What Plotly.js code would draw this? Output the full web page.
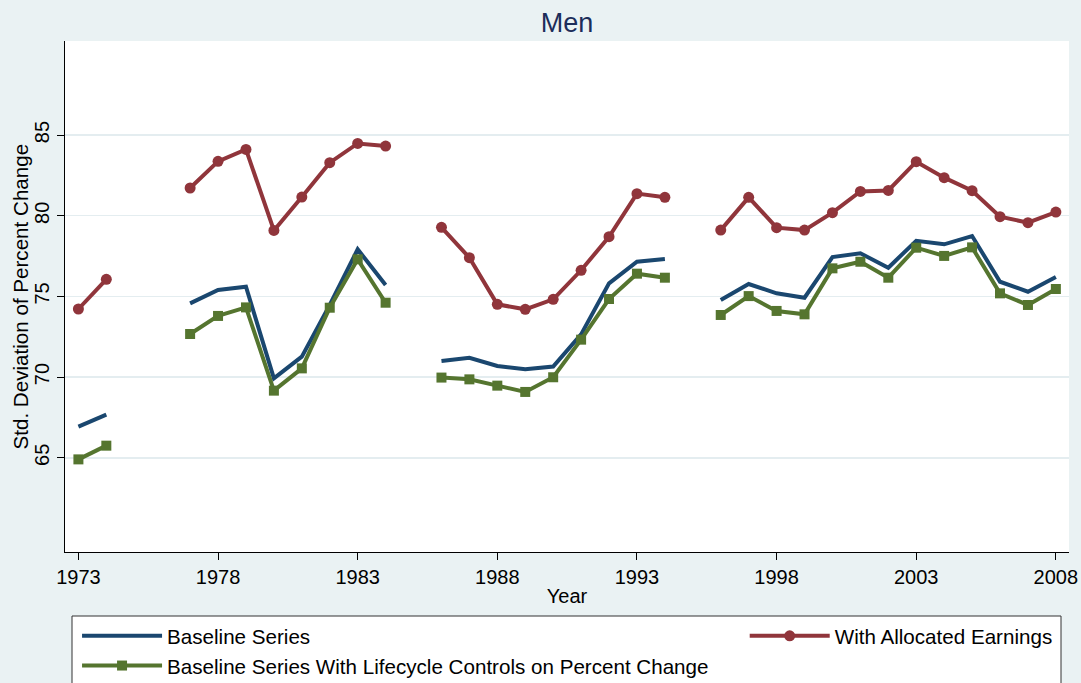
<!DOCTYPE html>
<html>
<head>
<meta charset="utf-8">
<script src="https://cdn.plot.ly/plotly-3.0.1.min.js"></script>
<style>html,body{margin:0;padding:0;background:#EAF2F3;}#chart{width:1081px;height:683px;}</style>
</head>
<body>
<div id="chart"></div>
<script>
var years = [1973,1974,1975,1976,1977,1978,1979,1980,1981,1982,1983,1984,1985,1986,1987,1988,1989,1990,1991,1992,1993,1994,1995,1996,1997,1998,1999,2000,2001,2002,2003,2004,2005,2006,2007,2008];
var baseline = [66.93,67.67,null,null,74.57,75.40,75.60,69.92,71.27,74.47,77.92,75.71,null,71.00,71.20,70.69,70.48,70.65,72.65,75.81,77.15,77.32,null,74.78,75.77,75.19,74.92,77.44,77.67,76.78,78.45,78.23,78.74,75.91,75.29,76.20];
var allocated = [74.22,76.06,null,null,81.72,83.37,84.11,79.09,81.16,83.29,84.48,84.32,null,79.28,77.40,74.51,74.20,74.82,76.62,78.70,81.37,81.14,null,79.11,81.14,79.26,79.11,80.19,81.51,81.57,83.35,82.36,81.55,79.94,79.57,80.23];
var lifecycle = [64.90,65.75,null,null,72.67,73.79,74.32,69.16,70.54,74.30,77.30,74.61,null,69.97,69.86,69.47,69.08,69.99,72.32,74.84,76.41,76.16,null,73.85,75.02,74.10,73.89,76.74,77.15,76.16,78.02,77.51,78.04,75.19,74.47,75.46];
var xTicks = [1973,1978,1983,1988,1993,1998,2003,2008];
var yTicks = [65,70,75,80,85];
var seriesNames = ['Baseline Series','With Allocated Earnings','Baseline Series With Lifecycle Controls on Percent Change'];
var yTitle = 'Std. Deviation of Percent Change';

var FONT = 'Liberation Sans, Arial, Helvetica, sans-serif';
var NAVY = '#1A476F', MAROON = '#90353B', GREEN = '#55752F';

var traces = [
  {x: years, y: baseline, name: seriesNames[0], type: 'scatter', mode: 'lines', connectgaps: false,
   line: {color: NAVY, width: 4}, legend: 'legend'},
  {x: years, y: allocated, name: seriesNames[1], type: 'scatter', mode: 'lines+markers', connectgaps: false,
   line: {color: MAROON, width: 4}, marker: {symbol: 'circle', size: 11, color: MAROON}, legend: 'legend2'},
  {x: years, y: lifecycle, name: seriesNames[2], type: 'scatter', mode: 'lines+markers', connectgaps: false,
   line: {color: GREEN, width: 4}, marker: {symbol: 'square', size: 10, color: GREEN}, legend: 'legend'}
];

var layout = {
  width: 1081, height: 683,
  paper_bgcolor: '#EAF2F3', plot_bgcolor: '#FFFFFF',
  font: {family: FONT, size: 20, color: '#000'},
  margin: {l: 65, r: 12, t: 41, b: 131, autoexpand: false},
  title: {text: 'Men', font: {family: FONT, size: 27, color: '#1c2d5a'}, x: 0.5, xref: 'paper', y: 0.967, yref: 'container', yanchor: 'middle'},
  xaxis: {range: [1972.52, 2008.47], tickmode: 'array', tickvals: xTicks, ticktext: xTicks.map(String),
    ticks: 'outside', ticklen: 7, tickcolor: '#000', tickwidth: 1, showline: true, linecolor: '#000', linewidth: 1.3,
    showgrid: false, zeroline: false, tickfont: {size: 20, family: FONT},
    title: {text: 'Year', font: {size: 20, family: FONT}, standoff: 1}},
  yaxis: {range: [59.16, 90.83], tickmode: 'array', tickvals: yTicks, ticktext: yTicks.map(String), tickangle: -90,
    ticks: 'outside', ticklen: 7, tickcolor: '#000', tickwidth: 1, showline: true, linecolor: '#000', linewidth: 1.3,
    showgrid: true, gridcolor: '#E4EDF0', gridwidth: 1.5, zeroline: false, tickfont: {size: 20, family: FONT}},
  annotations: [
    {text: yTitle, xref: 'paper', yref: 'paper', x: (20-65)/1004, y: 0.5, xanchor: 'center', yanchor: 'middle',
     textangle: -90, showarrow: false, font: {size: 20.6, family: FONT, color: '#000'}}
  ],
  showlegend: true,
  legend: {x: 0.012, xanchor: 'left', y: -0.125, yanchor: 'top', orientation: 'v', bgcolor: 'rgba(0,0,0,0)',
    borderwidth: 0, itemwidth: 80, tracegroupgap: 0, maxheight: 300, font: {size: 20.6, family: FONT}, traceorder: 'normal'},
  legend2: {x: 0.677, xanchor: 'left', y: -0.125, yanchor: 'top', orientation: 'v', bgcolor: 'rgba(0,0,0,0)',
    borderwidth: 0, itemwidth: 80, maxheight: 300, font: {size: 20.6, family: FONT}},
  shapes: [
    {type: 'rect', xref: 'paper', yref: 'paper', x0: (72-65)/1004, x1: (1061-65)/1004, y0: (552-616)/511, y1: (552-700)/511,
     line: {color: '#333', width: 1}, fillcolor: '#FFFFFF', layer: 'below'}
  ]
};

Plotly.newPlot('chart', traces, layout, {displayModeBar: false, staticPlot: true});
</script>
</body>
</html>
